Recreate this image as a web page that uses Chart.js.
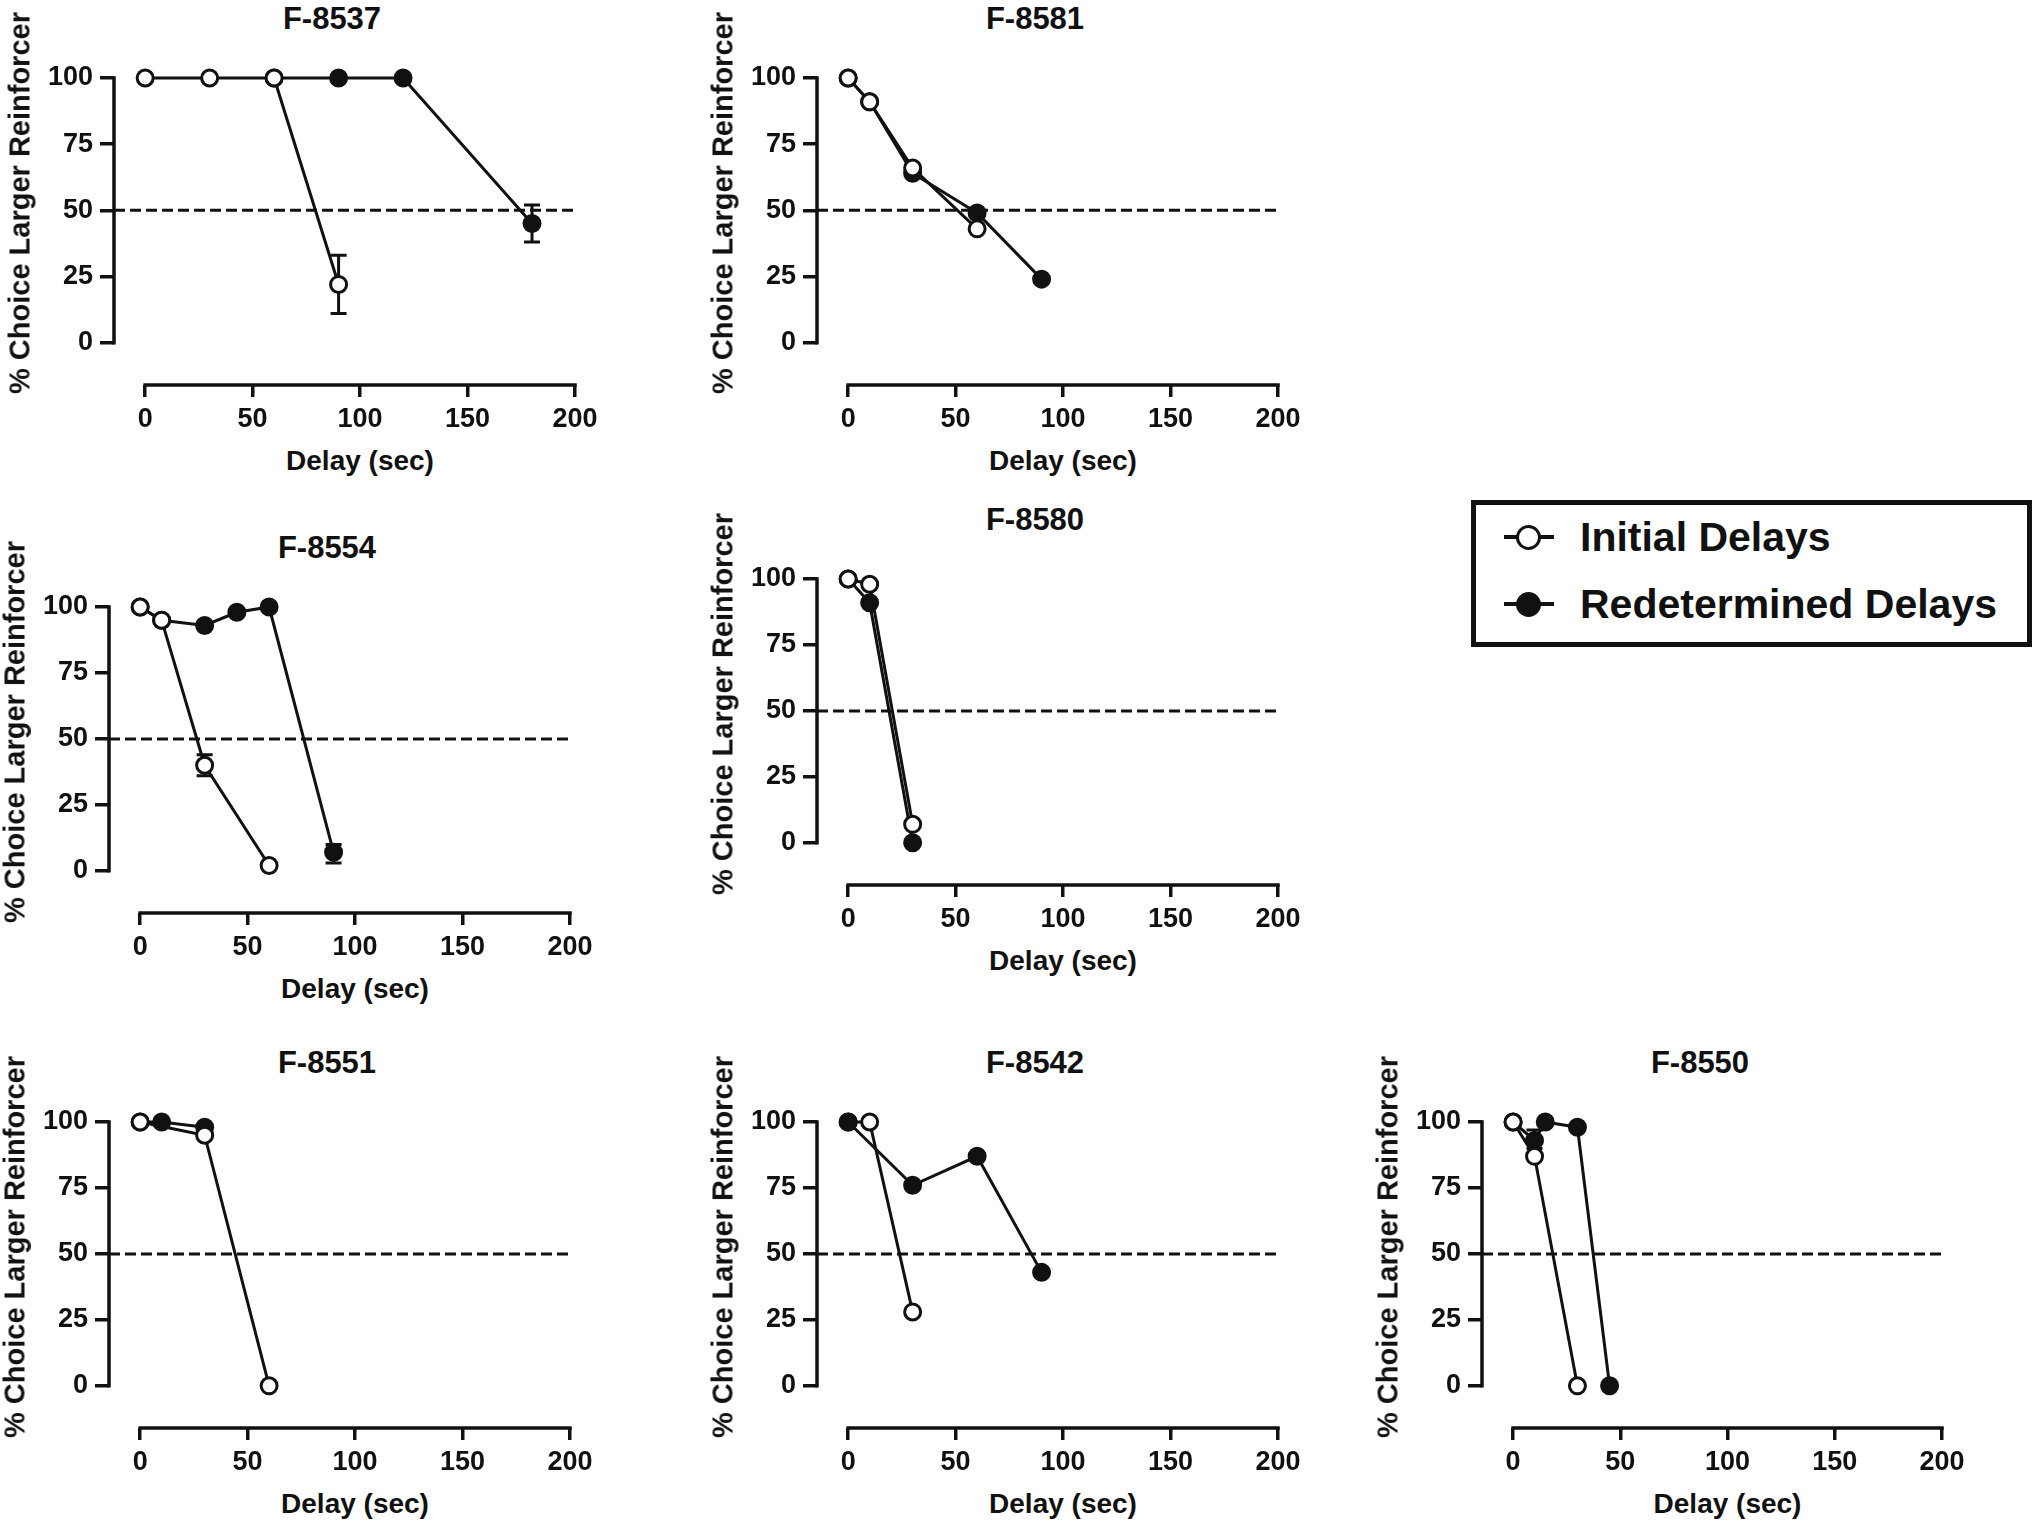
<!DOCTYPE html>
<html lang="en">
<head>
<meta charset="utf-8" />
<title>% Choice Larger Reinforcer by delay</title>
<script src="https://cdn.jsdelivr.net/npm/chart.js@4.4.1/dist/chart.umd.min.js"></script>
<style>
    html, body { margin: 0; padding: 0; background: #fff; }
    body {
        width: 2040px; height: 1528px; position: relative; overflow: hidden;
        font-family: "Liberation Sans", Arial, sans-serif; font-weight: bold; color: #111;
    }
    canvas { position: absolute; }
    .txt { position: absolute; white-space: nowrap; line-height: 1; transform: translate(-50%, -50%); }
    .ytitle { transform: translate(-50%, -50%) rotate(-90deg); }
    #legend { position: absolute; box-sizing: border-box; border: 5px solid #111; background: #fff; }
    .mk-line { position: absolute; height: 4px; background: #111; }
    .mk-dot { position: absolute; box-sizing: border-box; border: 3.5px solid #111; border-radius: 50%; }
    .lg-text { position: absolute; white-space: nowrap; line-height: 1; font-size: 41px; transform: translateY(-50%); }
</style>
</head>
<body>
<script>
    // ---- data ----
    const seriesNames = ['Initial Delays', 'Redetermined Delays'];
    const xTicks = [0, 50, 100, 150, 200];
    const yTicks = [0, 25, 50, 75, 100];
    const criterion = 50;

    const f8537InitX = [0, 30, 60, 90];
    const f8537InitY = [100, 100, 100, 22];
    const f8537InitErr = [null, null, null, [11, 33]];
    const f8537RedetX = [60, 90, 120, 180];
    const f8537RedetY = [100, 100, 100, 45];
    const f8537RedetErr = [null, null, null, [38, 52]];

    const f8581InitX = [0, 10, 30, 60];
    const f8581InitY = [100, 91, 66, 43];
    const f8581RedetX = [0, 10, 30, 60, 90];
    const f8581RedetY = [100, 91, 64, 49, 24];

    const f8554InitX = [0, 10, 30, 60];
    const f8554InitY = [100, 95, 40, 2];
    const f8554InitErr = [null, null, [36, 44], null];
    const f8554RedetX = [0, 10, 30, 45, 60, 90];
    const f8554RedetY = [100, 95, 93, 98, 100, 7];
    const f8554RedetErr = [null, null, null, null, null, [3, 10]];

    const f8580InitX = [0, 10, 30];
    const f8580InitY = [100, 98, 7];
    const f8580RedetX = [0, 10, 30];
    const f8580RedetY = [100, 91, 0];

    const f8551InitX = [0, 30, 60];
    const f8551InitY = [100, 95, 0];
    const f8551RedetX = [0, 10, 30];
    const f8551RedetY = [100, 100, 98];

    const f8542InitX = [0, 10, 30];
    const f8542InitY = [100, 100, 28];
    const f8542RedetX = [0, 30, 60, 90];
    const f8542RedetY = [100, 76, 87, 43];

    const f8550InitX = [0, 10, 30];
    const f8550InitY = [100, 87, 0];
    const f8550RedetX = [0, 10, 15, 30, 45];
    const f8550RedetY = [100, 93, 100, 98, 0];
    const f8550RedetErr = [null, [90, 97], null, null, null];

    // ---- layout (pixels) ----
    const INK = '#111';
    const X_MIN = -14.5, Y_MIN = -16;
    const Y_BOX = 100, X_BOX = 52, PAD_T = 26, PAD_R = 32;

    const panels = [
        { name: 'F-8537', x0: 145, x200: 575, y100: 78, axisY: 385, front: 'init',
          init: [f8537InitX, f8537InitY, f8537InitErr], redet: [f8537RedetX, f8537RedetY, f8537RedetErr] },
        { name: 'F-8581', x0: 848, x200: 1278, y100: 78, axisY: 385, front: 'init',
          init: [f8581InitX, f8581InitY], redet: [f8581RedetX, f8581RedetY] },
        { name: 'F-8554', x0: 140, x200: 570, y100: 607, axisY: 913, front: 'init',
          init: [f8554InitX, f8554InitY, f8554InitErr], redet: [f8554RedetX, f8554RedetY, f8554RedetErr] },
        { name: 'F-8580', x0: 848, x200: 1278, y100: 579, axisY: 885, front: 'init',
          init: [f8580InitX, f8580InitY], redet: [f8580RedetX, f8580RedetY] },
        { name: 'F-8551', x0: 140, x200: 570, y100: 1122, axisY: 1428, front: 'init',
          init: [f8551InitX, f8551InitY], redet: [f8551RedetX, f8551RedetY] },
        { name: 'F-8542', x0: 848, x200: 1278, y100: 1122, axisY: 1428, front: 'redet',
          init: [f8542InitX, f8542InitY], redet: [f8542RedetX, f8542RedetY] },
        { name: 'F-8550', x0: 1513, x200: 1942, y100: 1122, axisY: 1428, front: 'init',
          init: [f8550InitX, f8550InitY], redet: [f8550RedetX, f8550RedetY, f8550RedetErr] }
    ];

    const tickFont = { family: '"Liberation Sans", Arial, sans-serif', size: 27, weight: 'bold' };

    // Prism-style axis lines: y from 0 to 100, x from 0 to 200
    const axisLines = {
        id: 'axisLines',
        beforeDatasetsDraw(chart) {
            const { ctx, chartArea, scales } = chart;
            ctx.save();
            ctx.strokeStyle = INK;
            ctx.lineWidth = 3.5;
            ctx.lineCap = 'square';
            ctx.beginPath();
            ctx.moveTo(chartArea.left, scales.y.getPixelForValue(yTicks[0]));
            ctx.lineTo(chartArea.left, scales.y.getPixelForValue(yTicks[yTicks.length - 1]));
            ctx.moveTo(scales.x.getPixelForValue(xTicks[0]), chartArea.bottom);
            ctx.lineTo(scales.x.getPixelForValue(xTicks[xTicks.length - 1]), chartArea.bottom);
            ctx.stroke();
            ctx.restore();
        }
    };

    // vertical error bars with caps, drawn under each series
    const errorBars = {
        id: 'errorBars',
        beforeDatasetDraw(chart, args) {
            const ds = chart.data.datasets[args.index];
            if (!ds.err) return;
            const { ctx, scales } = chart;
            ctx.save();
            ctx.strokeStyle = INK;
            ctx.lineWidth = 3;
            ds.data.forEach((pt, i) => {
                const e = ds.err[i];
                if (!e) return;
                const px = scales.x.getPixelForValue(pt.x);
                const lo = scales.y.getPixelForValue(e[0]);
                const hi = scales.y.getPixelForValue(e[1]);
                ctx.beginPath();
                ctx.moveTo(px, lo); ctx.lineTo(px, hi);
                ctx.moveTo(px - 8, lo); ctx.lineTo(px + 8, lo);
                ctx.moveTo(px - 8, hi); ctx.lineTo(px + 8, hi);
                ctx.stroke();
            });
            ctx.restore();
        }
    };

    function pts(xs, ys) {
        return xs.map((x, i) => ({ x: x, y: ys[i] }));
    }

    function addText(cls, text, x, y, size) {
        const d = document.createElement('div');
        d.className = cls;
        d.textContent = text;
        d.style.left = x + 'px';
        d.style.top = y + 'px';
        d.style.fontSize = size + 'px';
        document.body.appendChild(d);
    }

    function series(label, s, fill, order) {
        return {
            label: label,
            data: pts(s[0], s[1]),
            err: s[2] || null,
            showLine: true,
            borderColor: INK,
            borderWidth: 3,
            pointRadius: 8,
            pointBorderWidth: 3,
            pointBorderColor: INK,
            pointBackgroundColor: fill,
            clip: false,
            order: order
        };
    }

    panels.forEach(p => {
        const ppu = (p.x200 - p.x0) / 200;
        const left = p.x0 + X_MIN * ppu;
        const w = Math.round(Y_BOX + (p.x200 - left) + PAD_R);
        const h = Math.round(PAD_T + (p.axisY - p.y100) + X_BOX);

        const canvas = document.createElement('canvas');
        canvas.width = w;
        canvas.height = h;
        canvas.style.width = w + 'px';
        canvas.style.height = h + 'px';
        canvas.style.left = Math.round(left - Y_BOX) + 'px';
        canvas.style.top = Math.round(p.y100 - PAD_T) + 'px';
        document.body.appendChild(canvas);

        const initOrder = p.front === 'init' ? 0 : 1;
        new Chart(canvas, {
            type: 'scatter',
            data: {
                datasets: [
                    series(seriesNames[0], p.init, '#fff', initOrder),
                    series(seriesNames[1], p.redet, INK, 1 - initOrder),
                    {
                        label: 'criterion',
                        data: [{ x: X_MIN, y: criterion }, { x: xTicks[xTicks.length - 1], y: criterion }],
                        showLine: true,
                        borderColor: INK,
                        borderWidth: 3,
                        borderDash: [11, 5],
                        pointRadius: 0,
                        clip: false,
                        order: 5
                    }
                ]
            },
            options: {
                responsive: false,
                animation: false,
                events: [],
                devicePixelRatio: 1,
                layout: { padding: { top: PAD_T, right: PAD_R, left: 0, bottom: 0 } },
                plugins: { legend: { display: false }, tooltip: { enabled: false } },
                scales: {
                    x: {
                        type: 'linear',
                        min: X_MIN,
                        max: xTicks[xTicks.length - 1],
                        afterBuildTicks: s => { s.ticks = xTicks.map(v => ({ value: v })); },
                        afterFit: s => { s.height = X_BOX; },
                        border: { display: false },
                        grid: { drawOnChartArea: false, drawTicks: true, tickLength: 12, color: INK, lineWidth: 3.5 },
                        ticks: { font: tickFont, color: INK, padding: 6, autoSkip: false, maxRotation: 0 }
                    },
                    y: {
                        type: 'linear',
                        min: Y_MIN,
                        max: yTicks[yTicks.length - 1],
                        afterBuildTicks: s => { s.ticks = yTicks.map(v => ({ value: v })); },
                        afterFit: s => { s.width = Y_BOX; },
                        border: { display: false },
                        grid: { drawOnChartArea: false, drawTicks: true, tickLength: 14, color: INK, lineWidth: 3.5 },
                        ticks: { font: tickFont, color: INK, padding: 7, autoSkip: false }
                    }
                }
            },
            plugins: [axisLines, errorBars]
        });

        addText('txt', p.name, p.x0 + 187, p.y100 - 60, 31);
        addText('txt', 'Delay (sec)', (p.x0 + p.x200) / 2, p.axisY + 76, 28);
        addText('txt ytitle', '% Choice Larger Reinforcer', left - 94, p.y100 + 125, 29);
    });

    // legend box
    const legend = document.createElement('div');
    legend.id = 'legend';
    Object.assign(legend.style, { left: '1471px', top: '500px', width: '561px', height: '147px' });
    document.body.appendChild(legend);
    const rowsY = [537, 604];
    seriesNames.forEach((name, i) => {
        const cy = rowsY[i];
        const ln = document.createElement('div');
        ln.className = 'mk-line';
        Object.assign(ln.style, { left: '1504px', top: (cy - 2) + 'px', width: '50px' });
        const dot = document.createElement('div');
        dot.className = 'mk-dot';
        Object.assign(dot.style, { left: '1515.5px', top: (cy - 12.5) + 'px', width: '25px', height: '25px',
            background: i === 0 ? '#fff' : INK });
        const t = document.createElement('div');
        t.className = 'lg-text';
        t.textContent = name;
        Object.assign(t.style, { left: '1580px', top: cy + 'px' });
        document.body.append(ln, dot, t);
    });
</script>
</body>
</html>
